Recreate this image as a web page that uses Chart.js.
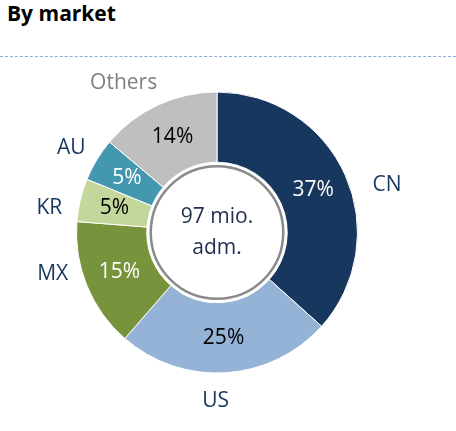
<!DOCTYPE html>
<html>
<head>
<meta charset="utf-8">
<script src="https://cdn.jsdelivr.net/npm/chart.js@4/dist/chart.umd.min.js"></script>
<style>
  html, body { margin: 0; padding: 0; background: #fff; }
  #wrap { position: relative; width: 456px; height: 431px; overflow: hidden; }
  #title { position: absolute; left: 7px; top: 3px; font: bold 21px/21px "Open Sans", sans-serif; color: #000; }
  #rule { position: absolute; left: 0; right: 0; top: 56px; border-top: 1px dashed #8eaad6; }
  #chart { position: absolute; left: 0; top: 0; }
</style>
</head>
<body>
<div id="wrap">
  <div id="title">By market</div>
  <div id="rule"></div>
  <canvas id="chart" width="456" height="431"></canvas>
</div>
<script>
// market shares, clockwise from 12 o'clock
const markets = ['CN', 'US', 'MX', 'KR', 'AU', 'Others'];
const shares = [37, 25, 15, 5, 5, 14];
const centerLines = ['97 mio.', 'adm.'];

const sliceColors = ['#17375e', '#95b3d7', '#77933c', '#c3d69b', '#4398b0', '#bfbfbf'];
const pctColors = ['#fff', '#000', '#fff', '#000', '#fff', '#000'];
const nameColors = ['#17375e', '#17375e', '#17375e', '#17375e', '#17375e', '#808080'];
// outside label placement tweaks: degrees off the slice middle, px beyond the rim
const nameShift = [8.5, 4, 8, -5, -1, -7];
const namePad = [36, 28, 29, 29, 28, 36];

const FONT = '21px "Open Sans", sans-serif';

const donutText = {
    id: 'donutText',
    afterDatasetsDraw(chart) {
        const ctx = chart.ctx;
        const meta = chart.getDatasetMeta(0);
        ctx.save();
        ctx.font = FONT;
        ctx.textAlign = 'center';
        ctx.textBaseline = 'middle';
        meta.data.forEach(function(arc, i) {
            const p = arc.tooltipPosition();
            ctx.fillStyle = pctColors[i];
            ctx.fillText(shares[i] + '%', p.x, p.y);

            const mid = (arc.startAngle + arc.endAngle) / 2 + nameShift[i] * Math.PI / 180;
            const r = arc.outerRadius + namePad[i];
            ctx.fillStyle = nameColors[i];
            ctx.fillText(markets[i], arc.x + r * Math.cos(mid), arc.y + r * Math.sin(mid));
        });

        // ring in the hole
        const a = meta.data[0];
        ctx.beginPath();
        ctx.arc(a.x, a.y, a.innerRadius - 4, 0, Math.PI * 2);
        ctx.lineWidth = 2.5;
        ctx.strokeStyle = '#8a8a8a';
        ctx.stroke();

        ctx.fillStyle = '#1f2d4f';
        ctx.fillText(centerLines[0], a.x, a.y - 15.5);
        ctx.fillText(centerLines[1], a.x, a.y + 15.5);
        ctx.restore();
    }
};

new Chart(document.getElementById('chart').getContext('2d'), {
    type: 'doughnut',
    data: {
        labels: markets,
        datasets: [{
            data: shares,
            backgroundColor: sliceColors,
            borderColor: '#fff',
            borderWidth: 1,
            hoverOffset: 0
        }]
    },
    options: {
        responsive: false,
        animation: false,
        events: [],
        cutout: '50%',
        layout: { padding: { left: 75.5, right: 97.5, top: 91.5, bottom: 57.5 } },
        plugins: {
            legend: { display: false },
            tooltip: { enabled: false }
        }
    },
    plugins: [donutText]
});
</script>
</body>
</html>
